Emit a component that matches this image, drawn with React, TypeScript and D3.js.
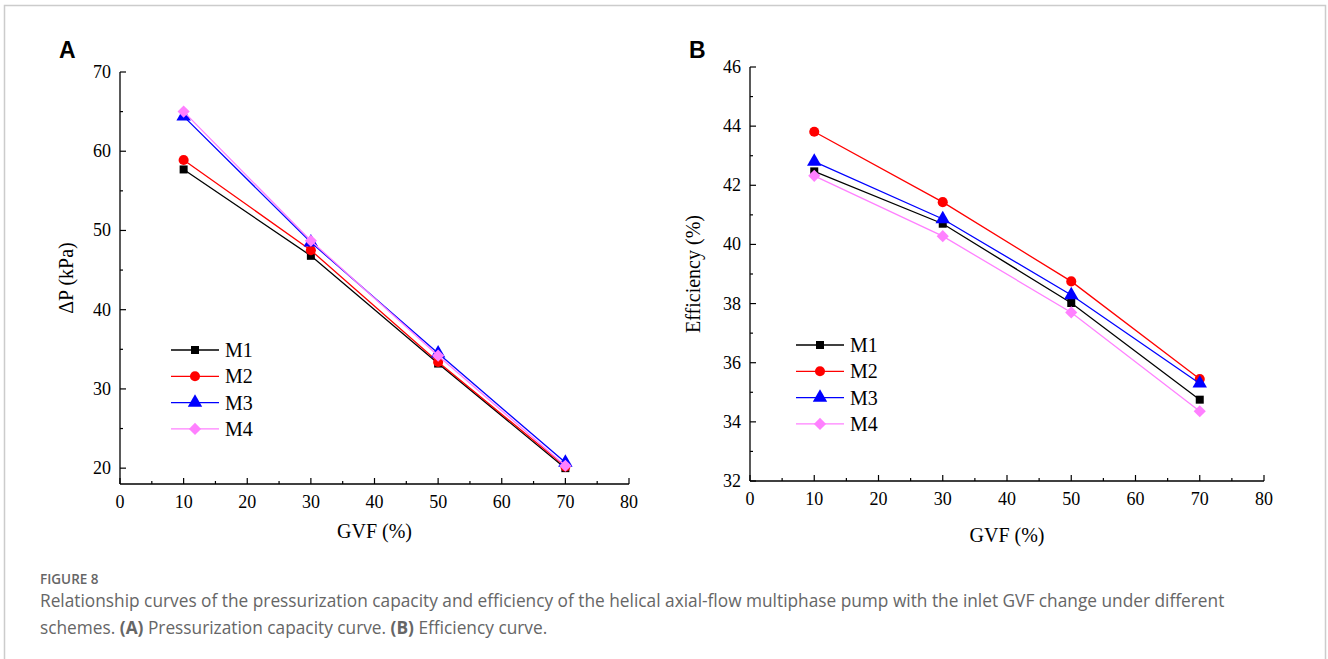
import React from "react";
import * as d3 from "d3";

const gvf = [10, 30, 50, 70];
const seriesNames = ["M1", "M2", "M3", "M4"];
const colors = ["#000000", "#ff0000", "#0000ff", "#ff80ff"];
const symbols = [d3.symbolSquare, d3.symbolCircle, d3.symbolTriangle, d3.symbolSquare];
const symbolRotate = [0, 0, 0, 45];

const dpM1 = [57.7, 46.8, 33.2, 20.0];
const dpM2 = [58.9, 47.5, 33.4, 20.2];
const dpM3 = [64.4, 48.5, 34.5, 20.7];
const dpM4 = [65.0, 48.7, 34.2, 20.3];

const effM1 = [42.47, 40.7, 38.02, 34.75];
const effM2 = [43.81, 41.43, 38.75, 35.45];
const effM3 = [42.8, 40.86, 38.29, 35.3];
const effM4 = [42.32, 40.28, 37.7, 34.36];

const xTicks = [0, 10, 20, 30, 40, 50, 60, 70, 80];
const dpTicks = [20, 30, 40, 50, 60, 70];
const effTicks = [32, 34, 36, 38, 40, 42, 44, 46];

const serif = "'Liberation Serif', 'Times New Roman', serif";
const sans = "'Open Sans', 'Noto Sans', sans-serif";

type PanelProps = {
  label: string;
  xRange: [number, number];
  yDomain: [number, number];
  yRange: [number, number];
  yTicks: number[];
  yMinorStep: number;
  data: number[][];
  yTitle: string;
  yTitleX: number;
  xTitleY: number;
  labelPos: [number, number];
  legendPos: [number, number];
};

const markerSize = [64, 80, 90, 74];

function Marker({ si, cx, cy }: { si: number; cx: number; cy: number }) {
  return (
    <path
      d={d3.symbol().type(symbols[si]).size(markerSize[si])() || ""}
      transform={`translate(${cx},${cy}) rotate(${symbolRotate[si]})`}
      fill={colors[si]}
    />
  );
}

function Panel(p: PanelProps) {
  const x = d3.scaleLinear().domain([0, 80]).range(p.xRange);
  const y = d3.scaleLinear().domain(p.yDomain).range(p.yRange);
  const line = d3
    .line<number>()
    .x((_, i) => x(gvf[i]))
    .y((d) => y(d));
  const x0 = p.xRange[0];
  const yb = p.yRange[0];
  const xMinor = d3.range(5, 80, 10);
  const yMinor: number[] = [];
  for (let i = 0; i < p.yTicks.length - 1; i++) yMinor.push(p.yTicks[i] + p.yMinorStep);
  return (
    <g>
      <text x={p.labelPos[0]} y={p.labelPos[1]} fontFamily="'Liberation Sans', Arial, sans-serif" fontWeight="bold" fontSize={23}>
        {p.label}
      </text>
      <line x1={x0} x2={x0} y1={p.yRange[1]} y2={yb} stroke="#000" strokeWidth={1.3} />
      <line x1={x0} x2={p.xRange[1]} y1={yb} y2={yb} stroke="#000" strokeWidth={1.3} />
      {xTicks.map((t) => (
        <g key={"xt" + t}>
          <line x1={x(t)} x2={x(t)} y1={yb} y2={yb - 6} stroke="#000" strokeWidth={1.2} />
          <text x={x(t)} y={yb + 24} textAnchor="middle" fontFamily={serif} fontSize={18}>
            {t}
          </text>
        </g>
      ))}
      {xMinor.map((t) => (
        <line key={"xm" + t} x1={x(t)} x2={x(t)} y1={yb} y2={yb - 3} stroke="#000" strokeWidth={1.2} />
      ))}
      {p.yTicks.map((t) => (
        <g key={"yt" + t}>
          <line x1={x0} x2={x0 + 6} y1={y(t)} y2={y(t)} stroke="#000" strokeWidth={1.2} />
          <text x={x0 - 9} y={y(t) + 6} textAnchor="end" fontFamily={serif} fontSize={18}>
            {t}
          </text>
        </g>
      ))}
      {yMinor.map((t) => (
        <line key={"ym" + t} x1={x0} x2={x0 + 3} y1={y(t)} y2={y(t)} stroke="#000" strokeWidth={1.2} />
      ))}
      <text
        x={(p.xRange[0] + p.xRange[1]) / 2}
        y={p.xTitleY}
        textAnchor="middle"
        fontFamily={serif}
        fontSize={20}
      >
        GVF (%)
      </text>
      <text
        transform={`translate(${p.yTitleX},${(p.yRange[0] + p.yRange[1]) / 2}) rotate(-90)`}
        textAnchor="middle"
        fontFamily={serif}
        fontSize={20}
      >
        {p.yTitle}
      </text>
      {p.data.map((s, si) => (
        <g key={"s" + si}>
          <path d={line(s) || ""} fill="none" stroke={colors[si]} strokeWidth={1.3} />
          {s.map((v, i) => (
            <Marker key={i} si={si} cx={x(gvf[i])} cy={y(v)} />
          ))}
        </g>
      ))}
      {seriesNames.map((n, si) => {
        const ly = p.legendPos[1] + si * 26.3;
        const lx = p.legendPos[0];
        return (
          <g key={"l" + n}>
            <line x1={lx} x2={lx + 48} y1={ly} y2={ly} stroke={colors[si]} strokeWidth={1.3} />
            <Marker si={si} cx={lx + 24} cy={ly} />
            <text x={lx + 54} y={ly + 7} fontFamily={serif} fontSize={20}>
              {n}
            </text>
          </g>
        );
      })}
    </g>
  );
}

export default function App() {
  return (
    <svg
      width={1328}
      height={659}
      style={{ position: "absolute", left: 0, top: 0, background: "#fff" }}
    >
      <rect x={0} y={0} width={1328} height={659} fill="#fff" />
      <path d="M4.5,670 V5.5 H1325.5 V670" fill="none" stroke="#cccccc" strokeWidth={1.5} />
      <Panel
        label="A"
        xRange={[120, 629]}
        yDomain={[18, 70]}
        yRange={[484, 72]}
        yTicks={dpTicks}
        yMinorStep={5}
        data={[dpM1, dpM2, dpM3, dpM4]}
        yTitle="ΔP (kPa)"
        yTitleX={73}
        xTitleY={538}
        labelPos={[59, 58]}
        legendPos={[171, 350]}
      />
      <Panel
        label="B"
        xRange={[750, 1264]}
        yDomain={[32, 46]}
        yRange={[481, 67]}
        yTicks={effTicks}
        yMinorStep={1}
        data={[effM1, effM2, effM3, effM4]}
        yTitle="Efficiency (%)"
        yTitleX={700}
        xTitleY={542}
        labelPos={[689, 58]}
        legendPos={[796, 345]}
      />
      <text x={40} y={584} fontFamily={sans} fontSize={13.5} fontWeight={600} fill="#666">
        FIGURE 8
      </text>
      <text x={40} y={607} fontFamily={sans} fontSize={17.3} fill="#666">
        Relationship curves of the pressurization capacity and efficiency of the helical axial-flow multiphase pump with the inlet GVF change under different
      </text>
      <text x={40} y={634} fontFamily={sans} fontSize={17.3} fill="#666">
        schemes. <tspan fontWeight="bold">(A)</tspan> Pressurization capacity curve. <tspan fontWeight="bold">(B)</tspan> Efficiency curve.
      </text>
    </svg>
  );
}
